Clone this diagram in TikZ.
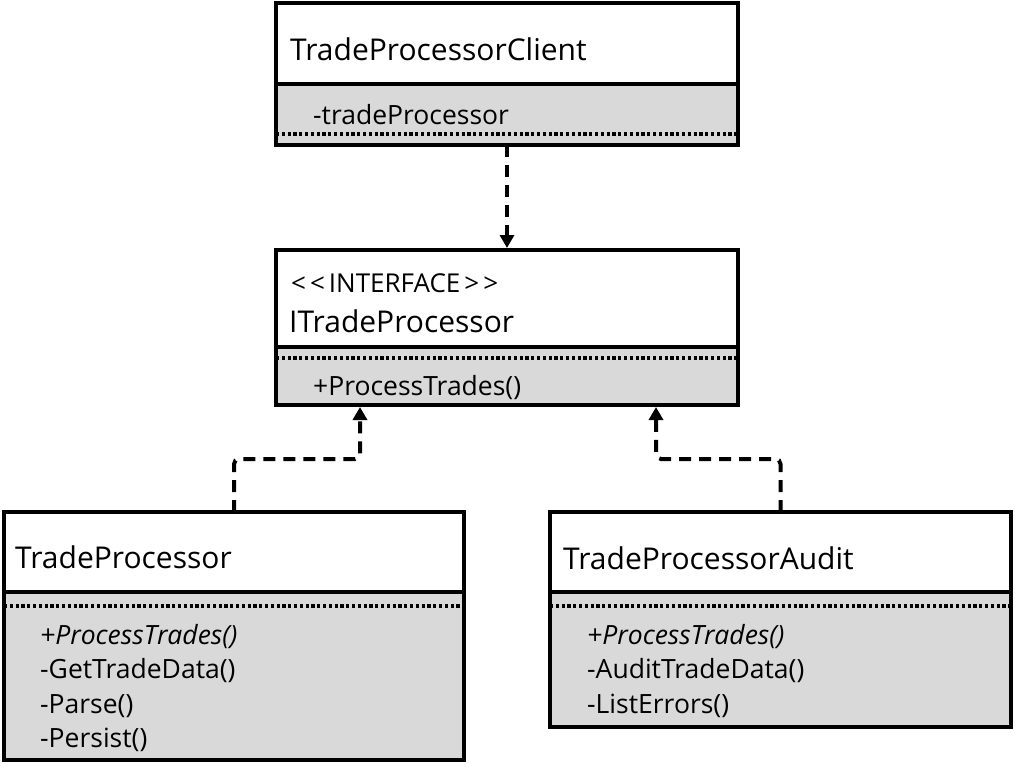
\documentclass[tikz,border=0pt]{standalone}
\usepackage{fontspec}
\setmainfont{Open Sans}
\usetikzlibrary{arrows.meta}
\definecolor{opsgray}{RGB}{217,217,217}
\tikzset{
  classbox/.style={draw, line width=4.5pt, outer sep=0pt, inner sep=0pt, anchor=north west},
  namebox/.style={classbox, fill=white},
  opsbox/.style={classbox, fill=opsgray},
  sepline/.style={line width=3.5pt, dash pattern=on 3.2pt off 2.6pt},
  realize/.style={line width=4pt, dash pattern=on 12pt off 8pt, rounded corners=5pt, -{Triangle[width=14pt,length=13pt]}},
  classname/.style={anchor=base west, inner sep=0pt, font=\fontsize{30}{36}\selectfont},
  stereo/.style={anchor=base west, inner sep=0pt, font=\fontsize{26}{32}\selectfont},
  memberline/.style={anchor=base west, inner sep=0pt, font=\fontsize{26.5}{32}\selectfont}
}
\begin{document}
\begin{tikzpicture}[x=1pt,y=-1pt]
\useasboundingbox (0,0) rectangle (1015,766);
\node[namebox, minimum width=462pt, minimum height=81pt] (client) at (276,3) {};
\node[opsbox, minimum width=462pt, minimum height=61pt] (client-ops) at (client.south west) {};
\draw[sepline] ([yshift=-50pt]client-ops.north west) -- ([yshift=-50pt]client-ops.north east);
\node[classname] (client-name) at (290,60) {TradeProcessorClient};
\node[memberline] (client-attr) at (313,124) {-tradeProcessor};

\node[namebox, minimum width=462pt, minimum height=97pt] (iface) at (276,250) {};
\node[opsbox, minimum width=462pt, minimum height=58pt] (iface-ops) at (iface.south west) {};
\draw[sepline] ([yshift=-11pt]iface-ops.north west) -- ([yshift=-11pt]iface-ops.north east);
\node[stereo] (iface-stereo) at (291,292) {<\kern4pt<\kern4pt INTERFACE\kern4pt>\kern4pt>};
\node[classname] (iface-name) at (289,332) {ITradeProcessor};
\node[memberline] (iface-op) at (313,395) {+ProcessTrades()};

\node[namebox, minimum width=460pt, minimum height=80pt] (tp) at (4,512) {};
\node[opsbox, minimum width=460pt, minimum height=168pt] (tp-ops) at (tp.south west) {};
\draw[sepline] ([yshift=-14pt]tp-ops.north west) -- ([yshift=-14pt]tp-ops.north east);
\node[classname] (tp-name) at (15,568) {TradeProcessor};
\node[memberline] (tp-op1) at (40,644) {\itshape +ProcessTrades()};
\node[memberline] (tp-op2) at (40,678) {-GetTradeData()};
\node[memberline] (tp-op3) at (40,713) {-Parse()};
\node[memberline] (tp-op4) at (40,747) {-Persist()};

\node[namebox, minimum width=461pt, minimum height=80pt] (tpa) at (550,512) {};
\node[opsbox, minimum width=461pt, minimum height=135pt] (tpa-ops) at (tpa.south west) {};
\draw[sepline] ([yshift=-14pt]tpa-ops.north west) -- ([yshift=-14pt]tpa-ops.north east);
\node[classname] (tpa-name) at (563,569) {TradeProcessorAudit};
\node[memberline] (tpa-op1) at (587,644) {\itshape +ProcessTrades()};
\node[memberline] (tpa-op2) at (587,678) {-AuditTradeData()};
\node[memberline] (tpa-op3) at (587,713) {-ListErrors()};

\draw[realize] (client-ops.south) -- ([yshift=2pt]iface.north);
\draw[realize] (tp.north) -- ++(0,-53) -| ([xshift=84pt,yshift=-2pt]iface-ops.south west);
\draw[realize] (tpa.north) -- ++(0,-53) -| ([xshift=-82pt,yshift=-2pt]iface-ops.south east);
\end{tikzpicture}
\end{document}
